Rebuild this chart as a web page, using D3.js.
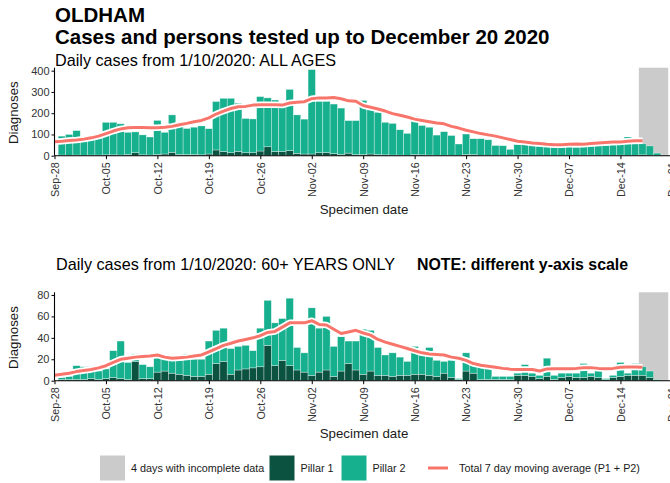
<!DOCTYPE html>
<html>
<head>
<meta charset="utf-8">
<script src="https://cdn.jsdelivr.net/npm/d3@7"></script>
<style>
  html, body { margin: 0; padding: 0; background: #fff; }
  svg { display: block; font-family: "Liberation Sans", Arial, sans-serif; }
</style>
</head>
<body>
<svg id="chart" width="670" height="483"></svg>
<script>
// ---- Data -------------------------------------------------------------
// Daily bars start on 29 Sep 2020; moving averages start on 28 Sep 2020.
const firstBarDay = "2020-09-29";
const firstAvgDay = "2020-09-28";

// All ages: Pillar 1 / Pillar 2 daily cases (29 Sep .. 20 Dec)
const allPillar1 = [3,2,3,2,3,3,4,4,3,5,14,4,3,6,8,16,6,5,6,4,8,27,20,14,20,14,14,22,42,20,20,24,11,8,8,14,15,10,6,12,5,6,8,5,4,3,3,2,6,4,3,2,2,2,2,6,5,2,2,1,1,1,3,4,2,1,1,1,1,2,2,2,3,2,2,2,3,2,2,4,2,1,0];
const allPillar2 = [89,98,115,73,75,87,153,153,147,105,98,94,85,160,102,176,144,123,128,136,119,228,250,256,227,161,159,256,230,242,216,288,181,164,397,242,241,233,218,153,160,254,209,199,153,149,119,103,179,138,131,95,111,93,53,96,75,78,73,47,46,29,49,48,48,44,41,41,43,43,38,42,42,44,46,48,51,86,53,52,44,11,3];
// All ages: total 7 day moving average (28 Sep .. 17 Dec)
const allAvg = [66,68,71,74,78,84,92,104,116,126,131,133,133,132,131,134,138,146,152,160,166,178,196,210,222,230,232,238,240,240,240,238,248,252,254,268,272,272,274,268,258,256,236,228,220,210,198,190,182,172,166,160,154,150,138,130,120,112,104,98,92,84,76,68,64,60,57,54,52,52,54,55,54,57,60,62,64,65,68,70,70];

// 60+ years: Pillar 1 / Pillar 2 daily cases (29 Sep .. 20 Dec)
const oldPillar1 = [1,1,1,1,2,1,2,3,2,1,18,2,2,8,9,7,6,5,4,4,6,16,18,6,10,11,12,13,33,14,19,14,10,8,5,8,10,4,9,16,10,6,9,5,5,4,5,5,6,6,5,4,7,3,1,9,7,1,1,1,1,1,5,5,4,2,4,1,3,4,3,3,4,3,1,3,4,5,5,5,3,0,0];
const oldPillar2 = [2,3,13,12,11,8,9,25,35,16,7,13,11,18,12,12,13,20,16,16,31,31,31,24,22,22,16,36,42,40,39,63,21,18,63,41,50,28,32,21,27,42,38,26,19,22,17,13,26,18,26,15,11,16,1,17,9,12,12,3,3,3,2,10,3,3,17,4,4,3,4,13,3,10,1,2,13,2,11,8,6,1,0];
// 60+ years: total 7 day moving average (28 Sep .. 17 Dec)
const oldAvg = [5,6,7,8.5,9.5,10.5,12,14,17,20,21,22,22.5,23,24,22,21,21.5,22,23,24,27,30,33,35,37,38.5,40,42,45,46,50,54,54,54,56,52.5,52,48,44,45.5,47,44.5,42.5,38.5,36,34,32,30,28,26,25,24.5,24,22,21,19,16,14.5,13.5,12.5,11.5,10.8,10.5,10.5,10.5,9,11,11.2,11.2,11.2,11.5,12,12.2,11.5,11.2,11.5,12.5,12.8,12.8,12.5];

const allTicks = [0, 100, 200, 300, 400];
const oldTicks = [0, 20, 40, 60, 80];
const incomplete = ["2020-12-17", "2020-12-20"];   // days with incomplete data
const axisStart = "2020-09-28", axisEnd = "2020-12-21";

const legendItems = [
  { key: "gray", label: "4 days with incomplete data" },
  { key: "p1",   label: "Pillar 1" },
  { key: "p2",   label: "Pillar 2" },
  { key: "avg",  label: "Total 7 day moving average (P1 + P2)" }
];

// ---- Styles -----------------------------------------------------------
const COL = { p1: "#0c5240", p2: "#17b08e", gray: "#cbcbcb", avg: "#f8756b", text: "#1a1a1a", tick: "#333333" };

const parse = d3.utcParse("%Y-%m-%d");
const dayAt = (start, i) => d3.utcDay.offset(parse(start), i);

const svg = d3.select("#chart");

// Shared time scale: one day = one band centred on the date
const x = d3.scaleUtc()
  .domain([parse(axisStart), parse(axisEnd)])
  .range([54.5, 54.5 + 84 * 7.35]);
const dayW = x(parse("2020-09-29")) - x(parse("2020-09-28"));
const xTicks = d3.utcDay.range(parse(axisStart), d3.utcDay.offset(parse(axisEnd), 1), 7);

function drawPanel(opt) {
  const y = d3.scaleLinear().domain([0, opt.yMax]).range([opt.bottom, opt.top]);
  const g = svg.append("g");

  // incomplete-data band
  const g0 = parse(incomplete[0]);
  const g1 = d3.utcDay.offset(parse(incomplete[1]), 1);
  g.append("rect")
    .attr("x", x(g0) - dayW / 2)
    .attr("width", x(g1) - x(g0))
    .attr("y", opt.top)
    .attr("height", opt.bottom - opt.top)
    .attr("fill", COL.gray);

  // stacked bars
  const rows = opt.p1.map((v, i) => ({ date: dayAt(firstBarDay, i), p1: v, p2: opt.p2[i] }));
  const stack = d3.stack().keys(["p1", "p2"])(rows);
  g.append("g").selectAll("g").data(stack).join("g")
    .attr("fill", s => COL[s.key])
    .selectAll("rect").data(s => s).join("rect")
      .attr("x", d => x(d.data.date) - dayW / 2)
      .attr("width", dayW)
      .attr("y", d => y(d[1]))
      .attr("height", d => Math.max(0, y(d[0]) - y(d[1])))
      .attr("stroke", "#ffffff")
      .attr("stroke-opacity", 0.55)
      .attr("stroke-width", 0.6);

  // moving average with white halo
  const avgPts = opt.avg.map((v, i) => ({ date: dayAt(firstAvgDay, i), v }));
  const line = d3.line().x(d => x(d.date)).y(d => y(d.v));
  g.append("path").datum(avgPts).attr("d", line)
    .attr("fill", "none").attr("stroke", "#ffffff").attr("stroke-width", 6.5)
    .attr("stroke-linejoin", "round");
  g.append("path").datum(avgPts).attr("d", line)
    .attr("fill", "none").attr("stroke", COL.avg).attr("stroke-width", 3)
    .attr("stroke-linejoin", "round");

  // axes
  const yAxis = g.append("g").attr("transform", `translate(${x(parse(axisStart))},0)`)
    .call(d3.axisLeft(y).tickValues(opt.ticks).tickSize(3).tickPadding(2));
  yAxis.select(".domain").attr("stroke", "#000").attr("stroke-width", 1.1)
    .attr("d", `M0,${opt.top}V${opt.bottom}`);
  yAxis.selectAll(".tick line").attr("stroke", "#000");
  yAxis.selectAll(".tick text").attr("font-size", 11).attr("fill", COL.tick)
    .attr("font-family", "Liberation Sans, Arial, sans-serif");

  const xAxis = g.append("g").attr("transform", `translate(0,${opt.bottom})`)
    .call(d3.axisBottom(x).tickValues(xTicks).tickFormat(d3.utcFormat("%b-%d")).tickSize(3.5).tickPadding(3));
  xAxis.select(".domain").attr("stroke", "#000").attr("stroke-width", 1.1)
    .attr("d", `M${x(parse(axisStart))},0H672`);
  xAxis.selectAll(".tick line").attr("stroke", "#000");
  xAxis.selectAll(".tick text")
    .attr("font-size", 10.8).attr("fill", COL.tick)
    .attr("font-family", "Liberation Sans, Arial, sans-serif")
    .attr("text-anchor", "end")
    .attr("transform", "rotate(-90)")
    .attr("x", -6.5).attr("y", 0).attr("dy", "0.36em");

  // axis titles
  svg.append("text")
    .attr("transform", `translate(17.5,${(opt.top + opt.bottom) / 2 + 1}) rotate(-90)`)
    .attr("text-anchor", "middle").attr("font-size", 13.3).attr("fill", COL.text)
    .text("Diagnoses");
  svg.append("text")
    .attr("x", 364).attr("y", opt.xTitleY)
    .attr("text-anchor", "middle").attr("font-size", 13.3).attr("fill", COL.text)
    .text("Specimen date");
}

// ---- Titles -------------------------------------------------------------
svg.append("text").attr("x", 55).attr("y", 21.5).attr("font-size", 20.5).attr("font-weight", "bold")
  .attr("fill", "#000").text("OLDHAM");
svg.append("text").attr("x", 55).attr("y", 43.6).attr("font-size", 20.5).attr("font-weight", "bold")
  .attr("fill", "#000").text("Cases and persons tested up to December 20 2020");
svg.append("text").attr("x", 55).attr("y", 66.3).attr("font-size", 16.2)
  .attr("fill", "#000").text("Daily cases from 1/10/2020: ALL AGES");

svg.append("text").attr("x", 56).attr("y", 270.3).attr("font-size", 16.2)
  .attr("fill", "#000").text("Daily cases from 1/10/2020: 60+ YEARS ONLY");
svg.append("text").attr("x", 417).attr("y", 270.3).attr("font-size", 15.9).attr("font-weight", "bold")
  .attr("fill", "#000").text("NOTE: different y-axis scale");

// ---- Panels -------------------------------------------------------------
drawPanel({ p1: allPillar1, p2: allPillar2, avg: allAvg, ticks: allTicks,
            yMax: 414, top: 67.7, bottom: 155.7, xTitleY: 213.5 });
drawPanel({ p1: oldPillar1, p2: oldPillar2, avg: oldAvg, ticks: oldTicks,
            yMax: 82.5, top: 292.3, bottom: 380.7, xTitleY: 437.5 });

// ---- Legend -------------------------------------------------------------
const legendX = { gray: 100, p1: 269.5, p2: 341.5, avg: 428 };
const legend = svg.append("g").attr("font-size", 10.8).attr("fill", COL.text);
legendItems.forEach(item => {
  const lx = legendX[item.key];
  if (item.key === "avg") {
    legend.append("line").attr("x1", lx).attr("x2", lx + 20).attr("y1", 468).attr("y2", 468)
      .attr("stroke", COL.avg).attr("stroke-width", 3);
  } else {
    legend.append("rect").attr("x", lx).attr("y", 455.5).attr("width", 25).attr("height", 25)
      .attr("fill", COL[item.key]);
  }
  legend.append("text").attr("x", lx + 31).attr("y", 472).text(item.label);
});
</script>
</body>
</html>
